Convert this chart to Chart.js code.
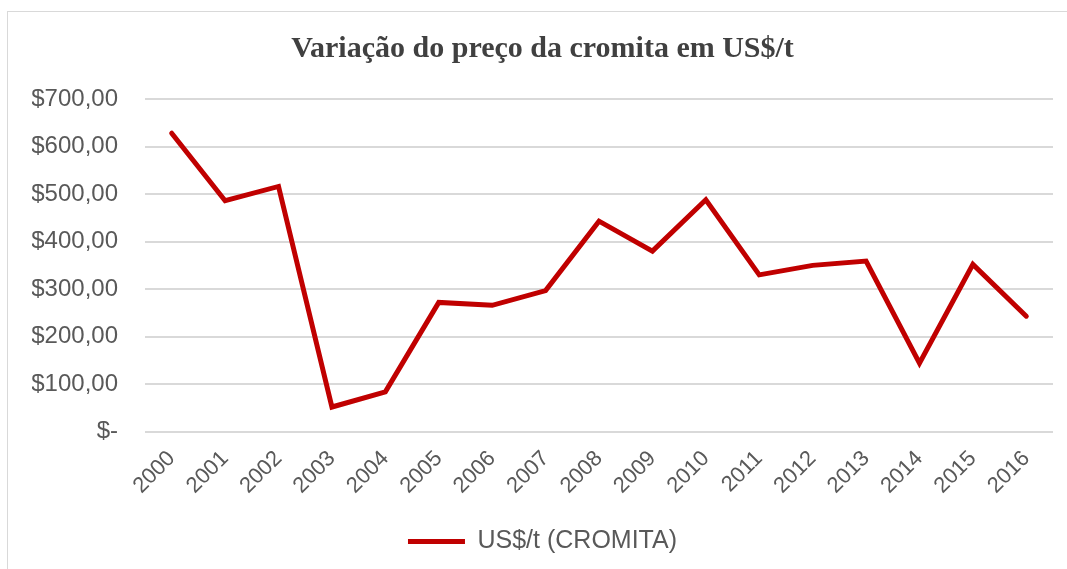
<!DOCTYPE html>
<html>
<head>
<meta charset="utf-8">
<script src="https://cdn.jsdelivr.net/npm/chart.js@4"></script>
<style>
  html, body { margin: 0; padding: 0; background: #fff; overflow: hidden; }
  #wrap { position: absolute; left: 7px; top: 11px; width: 1200px; height: 700px; border: 1px solid #d9d9d9; box-sizing: border-box; }
  #c { position: absolute; left: 0; top: 0; }
</style>
</head>
<body>
<div id="wrap"></div>
<canvas id="c" width="1067" height="569"></canvas>
<script>
const years = ['2000','2001','2002','2003','2004','2005','2006','2007','2008','2009','2010','2011','2012','2013','2014','2015','2016'];
const precoCromita = [628, 486, 516, 52, 84, 272, 266, 297, 443, 380, 488, 330, 350, 359, 144, 352, 243];
const yTicks = [0, 100, 200, 300, 400, 500, 600, 700];

function moeda(v) {
  if (v === 0) return '$-';
  return '$' + v.toFixed(2).replace('.', ',');
}

const ctx = document.getElementById('c').getContext('2d');
new Chart(ctx, {
  type: 'line',
  data: {
    labels: years,
    datasets: [{
      label: 'US$/t (CROMITA)',
      data: precoCromita,
      borderColor: '#c00000',
      backgroundColor: '#c00000',
      borderWidth: 5,
      pointRadius: 0,
      tension: 0,
      borderCapStyle: 'round'
    }]
  },
  options: {
    responsive: false,
    animation: false,
    layout: { padding: { left: 32, right: 14, top: 22, bottom: 5 } },
    plugins: {
      title: {
        display: true,
        text: 'Variação do preço da cromita em US$/t',
        color: '#404040',
        font: { family: '"Liberation Serif", "Times New Roman", serif', size: 30, weight: 'bold' },
        padding: { top: 9, bottom: 32 }
      },
      legend: {
        position: 'bottom',
        labels: {
          color: '#595959',
          font: { family: '"Liberation Sans", Arial, sans-serif', size: 25 },
          boxWidth: 57,
          boxHeight: 5,
          padding: 10,
          generateLabels: function (chart) {
            return [{
              text: 'US$/t (CROMITA)',
              fillStyle: '#c00000',
              strokeStyle: '#c00000',
              lineWidth: 0,
              fontColor: '#595959',
              datasetIndex: 0
            }];
          }
        }
      },
      tooltip: { enabled: false }
    },
    scales: {
      x: {
        offset: true,
        grid: { display: false, drawTicks: false },
        border: { display: false },
        ticks: {
          color: '#595959',
          font: { family: '"Liberation Sans", Arial, sans-serif', size: 22 },
          maxRotation: 45,
          minRotation: 45,
          padding: 14
        },
        afterFit: function (axis) {
          axis.height += 6;
        }
      },
      y: {
        min: 0,
        max: 700,
        afterBuildTicks: function (axis) {
          axis.ticks = yTicks.map(v => ({ value: v }));
        },
        afterFit: function (axis) {
          axis.width = 113;
        },
        grid: { color: '#d9d9d9', lineWidth: 2, drawTicks: false },
        border: { display: false },
        ticks: {
          color: '#595959',
          font: { family: '"Liberation Sans", Arial, sans-serif', size: 24 },
          padding: 27,
          callback: v => moeda(v)
        }
      }
    }
  }
});
</script>
</body>
</html>
